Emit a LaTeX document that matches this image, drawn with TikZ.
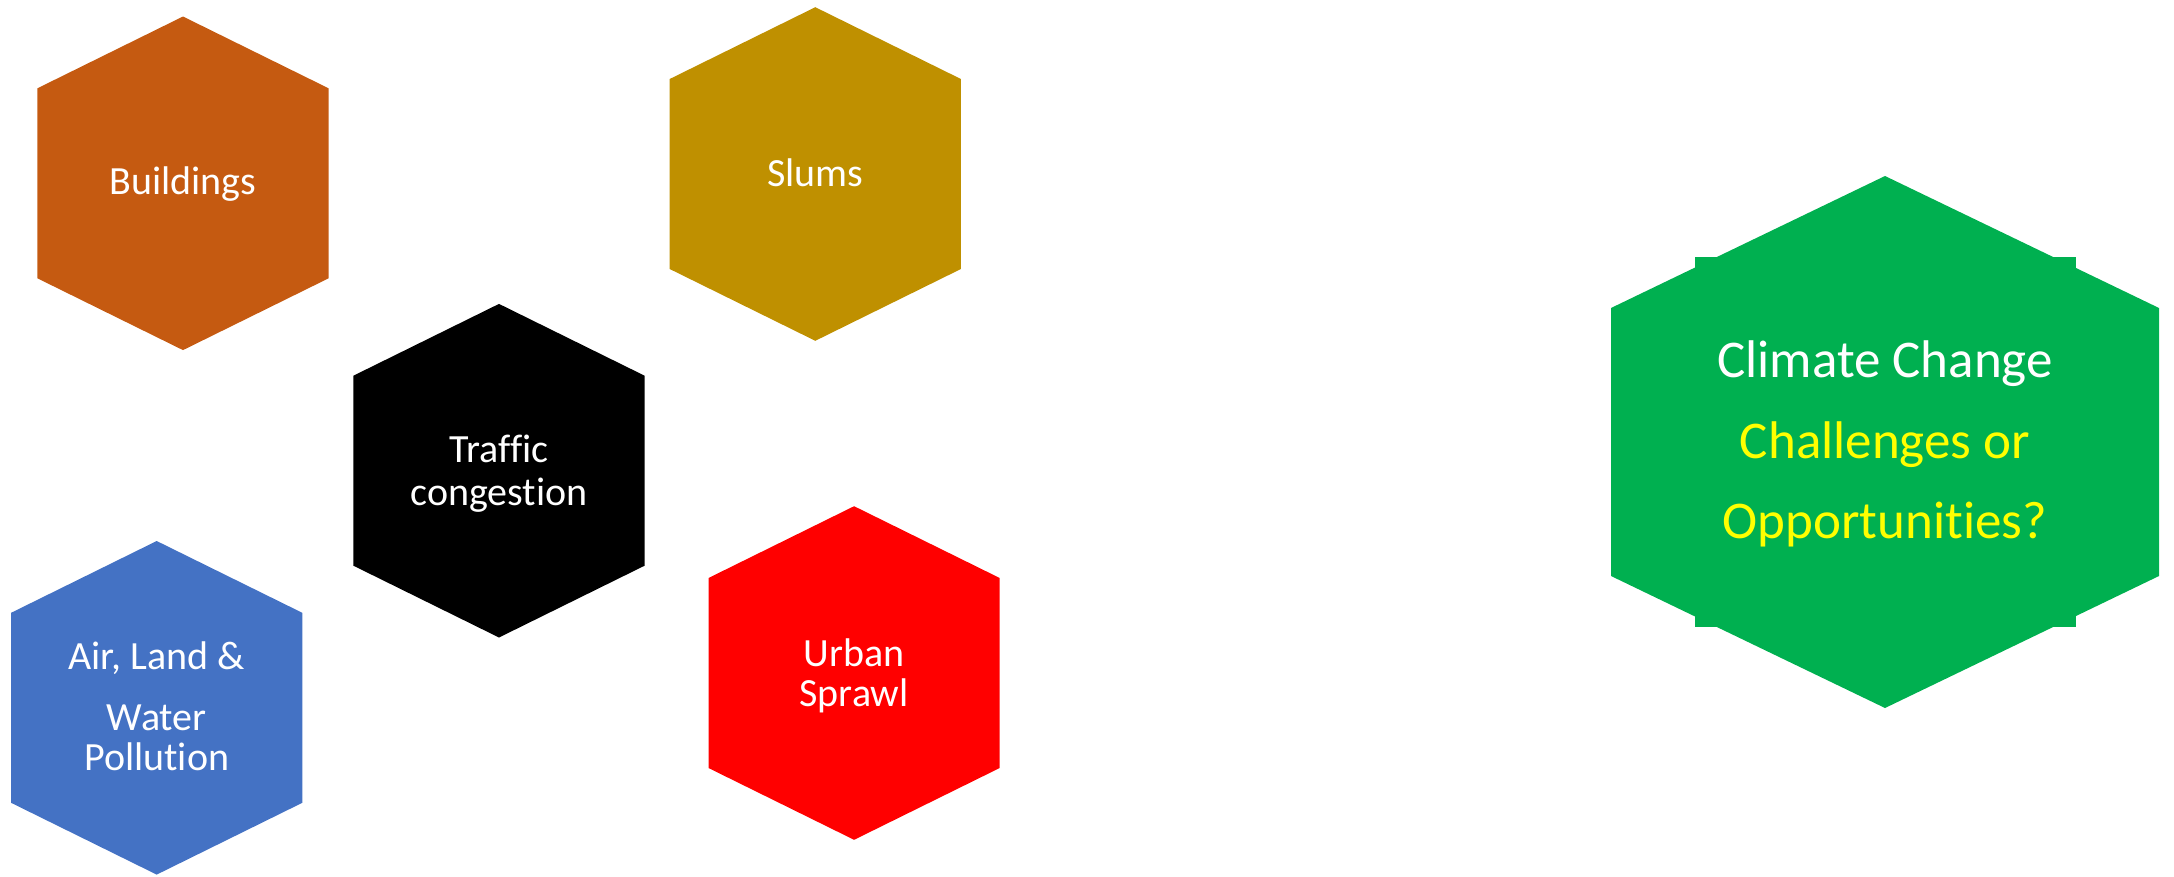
\documentclass[tikz,border=0pt]{standalone}
\usepackage{fontspec}
\setmainfont[Ligatures=NoCommon]{Carlito}
\definecolor{cBuild}{RGB}{197,90,17}
\definecolor{cSlum}{RGB}{191,144,0}
\definecolor{cAir}{RGB}{68,114,196}
\definecolor{cRed}{RGB}{255,0,0}
\definecolor{cGreen}{RGB}{0,176,80}
\definecolor{cYellow}{RGB}{255,255,0}
\tikzset{
  hexfill/.style={fill=#1, draw=none},
  hextext/.style={text=white, align=center, inner sep=0pt, font=\fontsize{40}{43}\selectfont},
  bigtext/.style={text=white, align=center, inner sep=0pt, font=\fontsize{53}{80.5}\selectfont}
}
\newcommand\myhex[3]{%
  \path[hexfill=#3, shift={(#1,#2)}] (-145.6,-95) -- (0,-166.8) -- (145.6,-95) -- (145.6,95) -- (0,166.8) -- (-145.6,95) -- cycle;}
\begin{document}
\begin{tikzpicture}[x=1pt,y=-1pt]
\useasboundingbox (0,0) rectangle (2174,876);
% small hexagons
\myhex{183}{183.3}{cBuild}
\myhex{815.3}{174}{cSlum}
\myhex{499}{470.7}{black}
\myhex{854.1}{673}{cRed}
\myhex{156.7}{707.8}{cAir}
% green hexagon with rectangle behind
\path[hexfill=cGreen] (1695.3,257.1) rectangle (2075.6,626.7);
\path[hexfill=cGreen, shift={(1885,442)}] (-274,-134) -- (0,-266) -- (274,-134) -- (274,134) -- (0,266) -- (-274,134) -- cycle;
% texts
\node[hextext, anchor=base] (buildings) at (183,194.5) {Buildings};
\node[hextext, anchor=base] (slums) at (815.3,186) {Slums};
\node[hextext] (traffic) at (499,473.4) {Traffic\\congestion};
\node[hextext, font=\fontsize{40}{40}\selectfont] (urban) at (854.1,675.9) {Urban\\Sprawl};
\node[hextext, font=\fontsize{40}{40}\selectfont] (air) at (156.7,706.4) {Air, Land \&\\[21pt]Water\\Pollution};
\node[bigtext] (climate) at (1885,444.1) {Climate Change\\\textcolor{cYellow}{Challenges or}\\\textcolor{cYellow}{Opportunities?}};
\end{tikzpicture}
\end{document}
